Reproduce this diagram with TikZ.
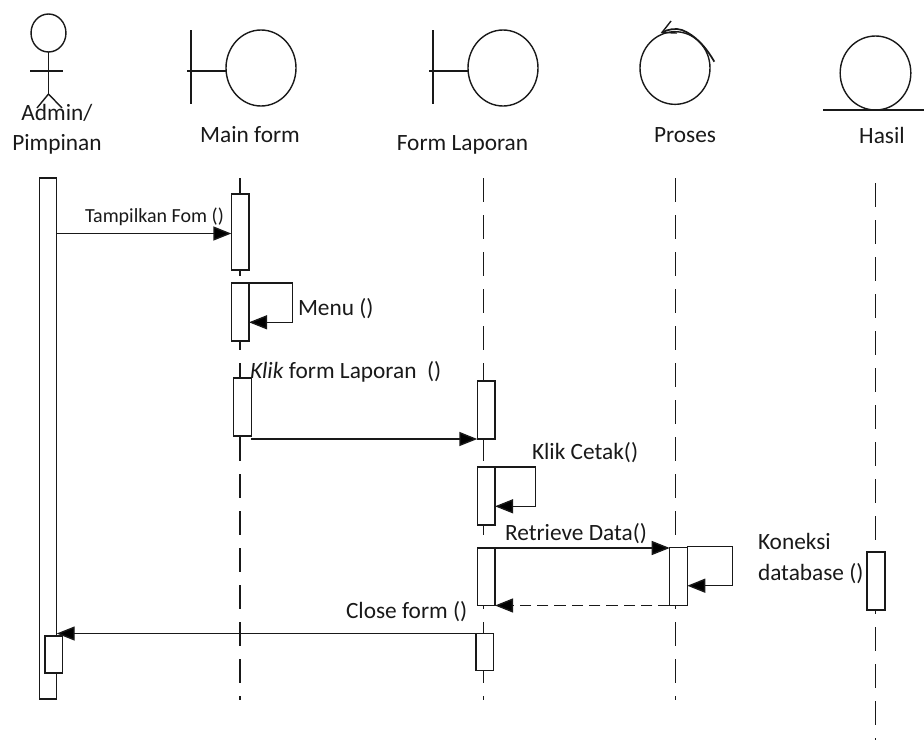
\documentclass[tikz,border=0pt]{standalone}
\usepackage{fontspec}
\setmainfont{Carlito}
\usetikzlibrary{arrows.meta,shapes.geometric}
\newcommand{\actbox}[5]{%
  \pgfmathsetmacro{\bcx}{(#2+#4)/2}\pgfmathsetmacro{\bcy}{(#3+#5)/2}%
  \pgfmathsetmacro{\bw}{(#4-#2)*0.75}\pgfmathsetmacro{\bh}{(#5-#3)*0.75}%
  \node[actbar,minimum width=\bw pt,minimum height=\bh pt] (#1) at (\bcx,\bcy) {};}
\tikzset{
  x=0.75pt,y=-0.75pt,
  ln/.style={line width=1.05pt,black!90},
  actbar/.style={ln,draw,fill=white,rectangle,inner sep=0pt,outer sep=0pt},
  lifeline/.style={ln,dash pattern=on 18pt off 9.75pt},
  msg/.style={ln,-{Triangle[length=13.5pt,width=10.5pt,fill=black]}},
  retmsg/.style={msg,dash pattern=on 8.5pt off 4.5pt},
  iconell/.style={ln,draw,ellipse,inner sep=0pt,outer sep=0pt},
  lbl/.style={anchor=base west,inner sep=0pt,outer sep=0pt,text=black!90,font=\fontsize{17.5pt}{20pt}\selectfont},
  lblc/.style={lbl,anchor=base}
}
\begin{document}
\begin{tikzpicture}
\useasboundingbox (0,0) rectangle (924,740);
% level coordinates
\coordinate (y1) at (0,233.5);
\coordinate (y2a) at (0,283);
\coordinate (y2b) at (0,322.3);
\coordinate (y3) at (0,439);
\coordinate (y4a) at (0,467);
\coordinate (y4b) at (0,506.3);
\coordinate (y5) at (0,548);
\coordinate (y6a) at (0,546.7);
\coordinate (y6b) at (0,585.7);
\coordinate (y7) at (0,605.5);
\coordinate (y8) at (0,633.5);
\coordinate (sx1) at (292.7,0);
\coordinate (sx2) at (535.7,0);
\coordinate (sx3) at (732.7,0);
% lifeline ends
\coordinate (l1t) at (240,178); \coordinate (l1b) at (240,700);
\coordinate (l2t) at (483.5,178); \coordinate (l2b) at (483.5,700);
\coordinate (l3t) at (675.5,178); \coordinate (l3b) at (675.5,700);
\coordinate (l4t) at (875.7,183); \coordinate (l4b) at (875.7,740);
\draw[lifeline] (l1t) -- (l1b);
\draw[lifeline] (l2t) -- (l2b);
\draw[lifeline] (l3t) -- (l3b);
\draw[lifeline] (l4t) -- (l4b);
% activation bars
\actbox{admin}{39.3}{178}{56.7}{699}
\actbox{admintwo}{45}{636}{62.7}{673}
\actbox{mainone}{231.3}{194}{249}{270}
\actbox{maintwo}{231.3}{283}{249}{341}
\actbox{mainthree}{233.7}{378}{251.3}{436}
\actbox{lapone}{477.3}{381}{495}{439}
\actbox{laptwo}{477.3}{467}{495}{525}
\actbox{lapthree}{477.3}{548}{495}{605.7}
\actbox{lapfour}{476}{633.3}{493.7}{670.7}
\actbox{prosone}{669.7}{547.7}{687.3}{605.3}
\actbox{hasone}{867}{552}{885}{610}
% actor
\node[iconell,minimum width=26.2pt,minimum height=28.5pt] (head) at (48.5,33) {};
\coordinate (hip) at (48.5,94);
\coordinate (armL) at (30,71); \coordinate (armR) at (63,71);
\coordinate (legL) at (37,108); \coordinate (legR) at (62,108);
\draw[ln] (head.south) -- (hip);
\draw[ln] (armL) -- (armR);
\draw[ln] (legL) -- (hip) -- (legR);
% boundary icons
\node[iconell,minimum width=52.5pt,minimum height=57pt] (mainc) at (261,68) {};
\coordinate (mainv1) at (191,30); \coordinate (mainv2) at (191,104); \coordinate (mainh) at (187,71);
\draw[ln] (mainv1) -- (mainv2);
\draw[ln] (mainh) -- (mainc.west |- mainh);
\node[iconell,minimum width=52.5pt,minimum height=57pt] (lapc) at (503,68) {};
\coordinate (lapv1) at (433,30); \coordinate (lapv2) at (433,104); \coordinate (laph) at (429,71);
\draw[ln] (lapv1) -- (lapv2);
\draw[ln] (laph) -- (lapc.west |- laph);
% control icon
\node[iconell,minimum width=52.5pt,minimum height=54.5pt] (prosc) at (675,68) {};
\coordinate (pa) at (662,32.5); \coordinate (pb) at (714.3,61.7);
\coordinate (pc) at (671,21); \coordinate (pd) at (677,33);
\draw[ln,line width=1.3pt] (pa) .. controls (668,29) and (676,28) .. (682,30) .. controls (695,35) and (706,47) .. (pb);
\draw[ln] (pc) -- (pa) -- (pd);
% entity icon
\node[iconell,minimum width=53pt,minimum height=55.5pt] (hasc) at (875.5,73) {};
\coordinate (hl1) at (823,110); \coordinate (hl2) at (924,110);
\draw[ln] (hl1) -- (hl2);
% messages
\draw[msg] (admin.east |- y1) -- (mainone.west |- y1);
\draw[msg] (maintwo.east |- y2a) -- (sx1 |- y2a) -- (sx1 |- y2b) -- (maintwo.east |- y2b);
\draw[msg] (mainthree.east |- y3) -- (lapone.west |- y3);
\draw[msg] (laptwo.east |- y4a) -- (sx2 |- y4a) -- (sx2 |- y4b) -- (laptwo.east |- y4b);
\draw[msg] (lapthree.east |- y5) -- (prosone.west |- y5);
\draw[msg] (prosone.east |- y6a) -- (sx3 |- y6a) -- (sx3 |- y6b) -- (prosone.east |- y6b);
\draw[retmsg] (prosone.west |- y7) -- (lapthree.east |- y7);
\draw[msg] (lapfour.west |- y8) -- (admin.east |- y8);
% labels
\node[lblc] (t1) at (57,120.5) {Admin/};
\node[lblc] (t2) at (57,150) {Pimpinan};
\node[lblc] (t3) at (250,142) {Main form};
\node[lblc] (t4) at (462.5,150) {Form Laporan};
\node[lblc] (t5) at (685,142) {Proses};
\node[lblc] (t6) at (882,143.3) {Hasil};
\node[lbl,font=\fontsize{15pt}{18pt}\selectfont] (t7) at (85,222.3) {Tampilkan Fom ()};
\node[lbl] (t8) at (298,315.7) {Menu ()};
\node[lbl] (t9) at (250,378) {\textit{Klik} form Laporan\ \ ()};
\node[lbl] (t10) at (532,459.3) {Klik Cetak()};
\node[lbl] (t11) at (505,540.7) {Retrieve Data()};
\node[lbl] (t12) at (758,549.3) {Koneksi};
\node[lbl] (t13) at (758,580) {database ()};
\node[lbl] (t14) at (346,618) {Close form ()};
\end{tikzpicture}
\end{document}
